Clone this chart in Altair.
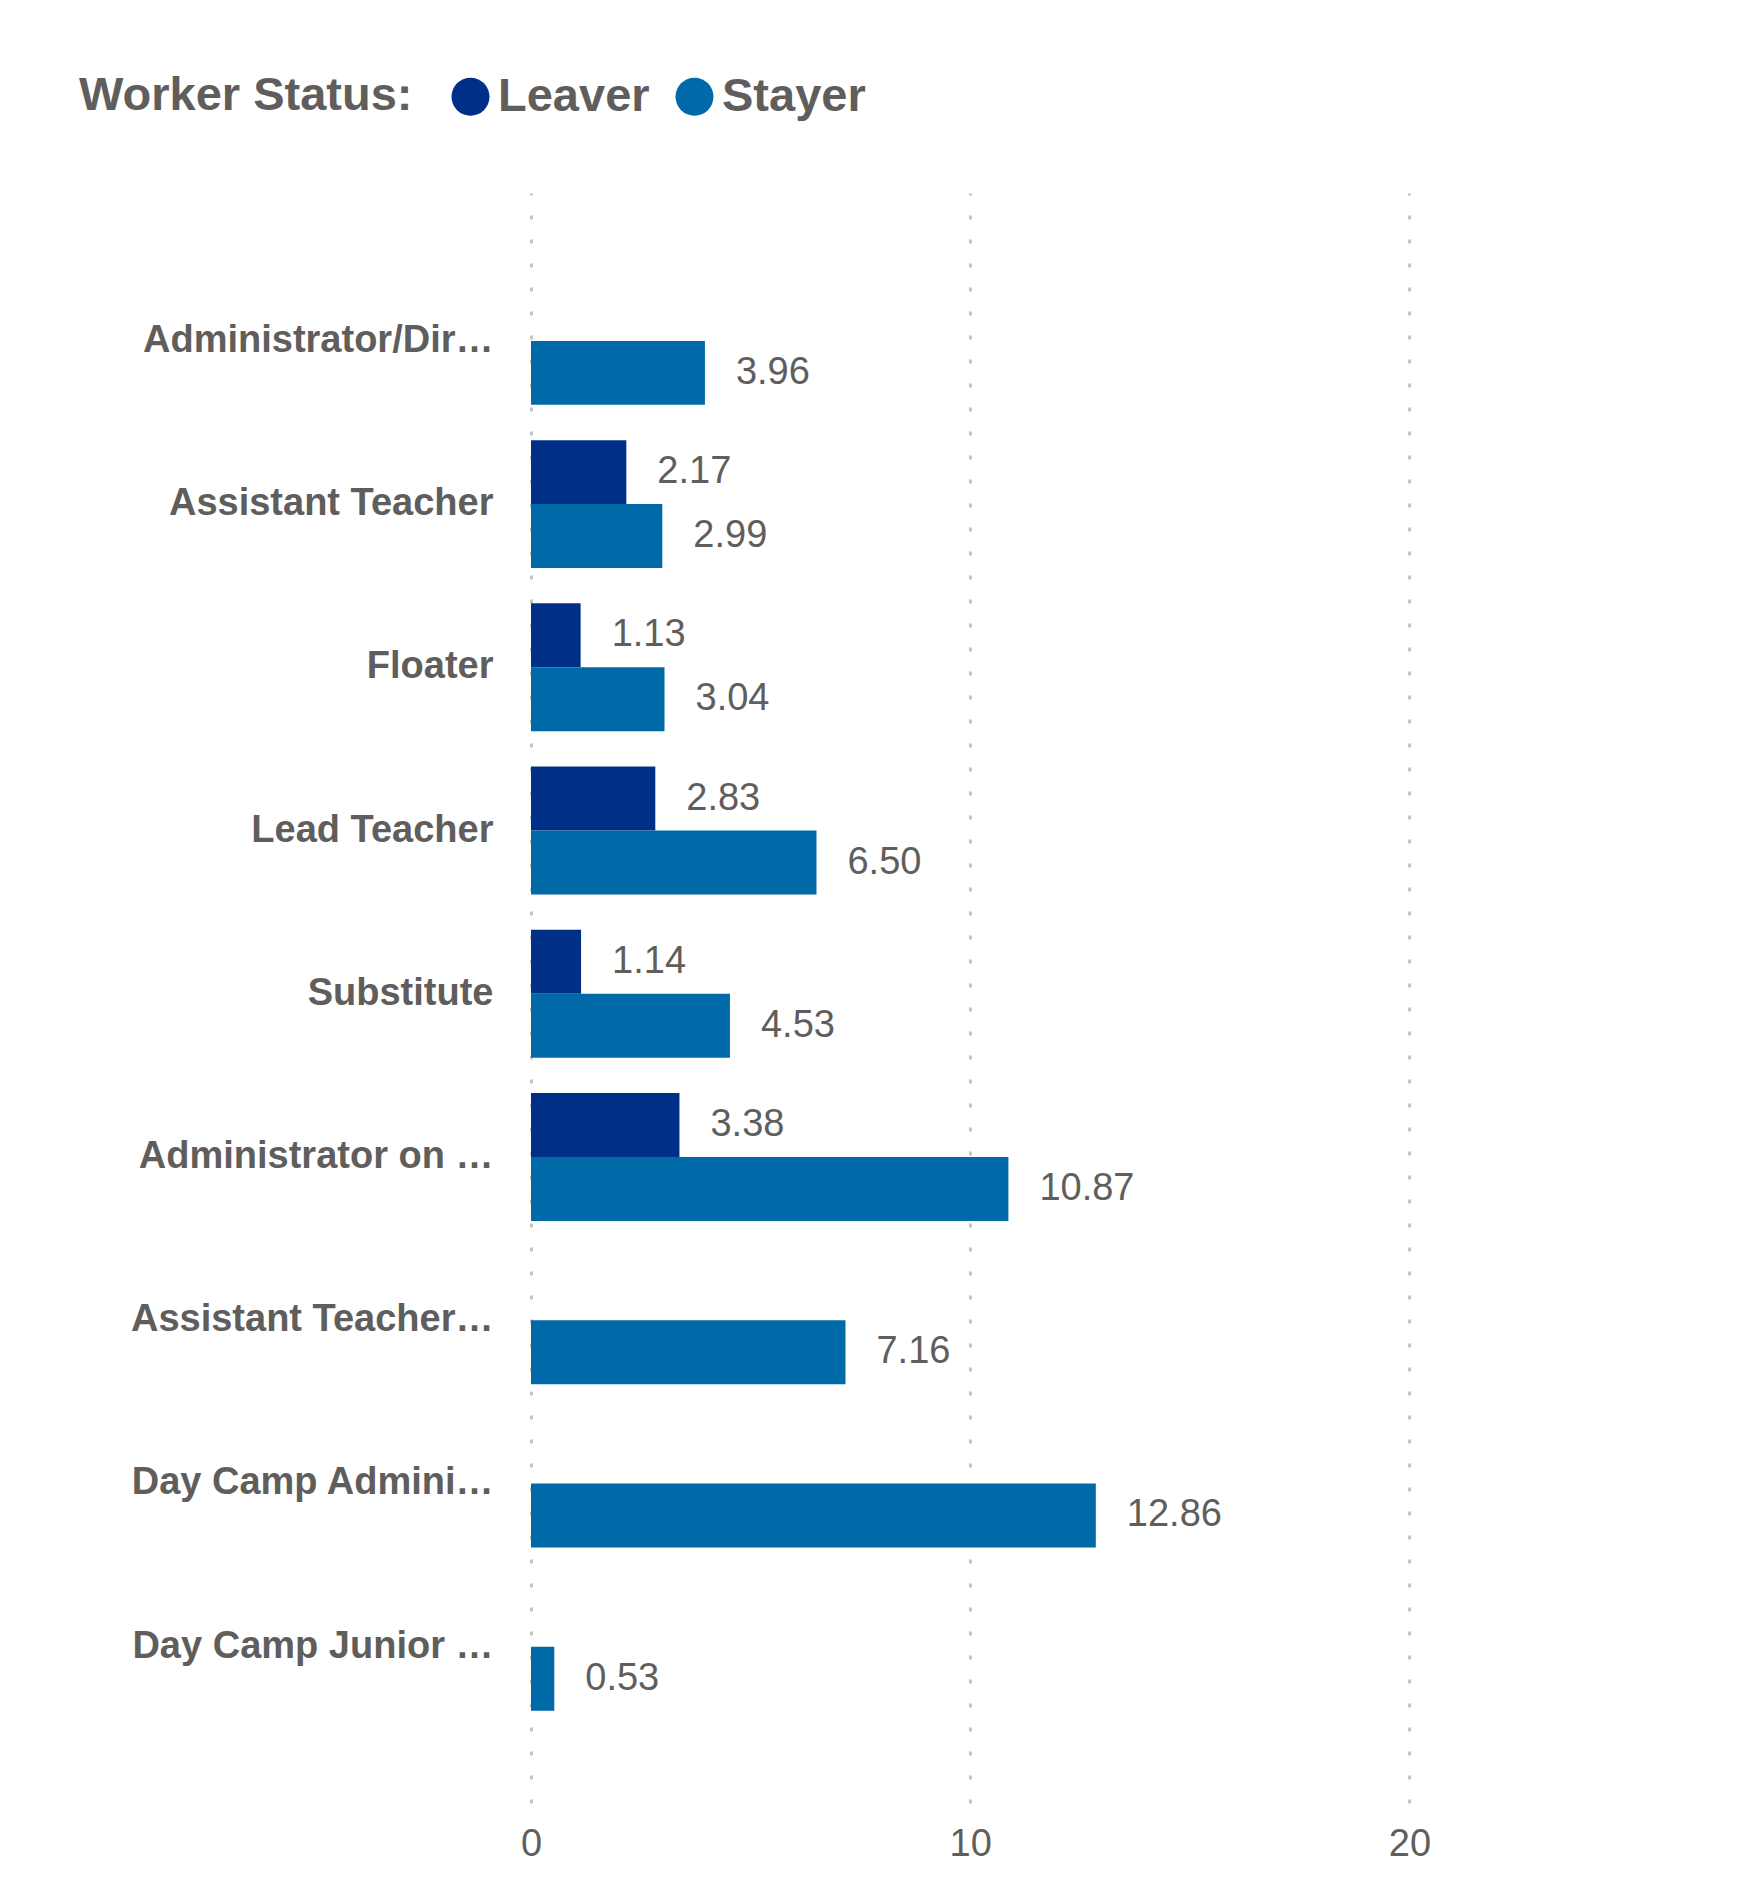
import altair as alt
import pandas as pd

categories = ["Administrator/Dir…", "Assistant Teacher", "Floater", "Lead Teacher",
              "Substitute", "Administrator on …", "Assistant Teacher…",
              "Day Camp Admini…", "Day Camp Junior …"]
leaver = [None, 2.17, 1.13, 2.83, 1.14, 3.38, None, None, None]
stayer = [3.96, 2.99, 3.04, 6.50, 4.53, 10.87, 7.16, 12.86, 0.53]
statuses = ["Leaver", "Stayer"]
colors = ["#002F87", "#0069A8"]
x_ticks = [0, 10, 20]

rows = []
for c, l, s in zip(categories, leaver, stayer):
    if l is not None:
        rows.append({"cat": c, "status": "Leaver", "value": l})
    if s is not None:
        rows.append({"cat": c, "status": "Stayer", "value": s})
df = pd.DataFrame(rows)

FONT = "Liberation Sans"
GRAY = "#605E5C"

y_enc = alt.Y("cat:N", sort=categories,
              scale=alt.Scale(paddingInner=0.216, paddingOuter=0.54, align=0.476),
              axis=alt.Axis(title=None, labelFontSize=38, labelFontWeight="bold",
                            labelColor=GRAY, labelFont=FONT, labelPadding=38,
                            ticks=False, domain=False, labelLimit=1000, grid=False))
yoff = alt.YOffset("status:N", scale=alt.Scale(domain=statuses))
x_enc = alt.X("value:Q", scale=alt.Scale(domain=[0, 25], nice=False),
              axis=alt.Axis(title=None, values=x_ticks, labelFontSize=38,
                            labelColor=GRAY, labelFont=FONT, grid=True,
                            gridDash=[4, 20], gridColor="#C8C6C4", gridWidth=3,
                            domain=False, ticks=False, labelPadding=22,
                            labelFlush=False))

bars = alt.Chart(df).mark_bar().encode(
    y=y_enc, yOffset=yoff, x=x_enc,
    color=alt.Color("status:N", scale=alt.Scale(domain=statuses, range=colors),
                    legend=alt.Legend(orient="none", legendX=-452, legendY=-120,
                                      direction="horizontal", titleOrient="left",
                                      title="Worker Status:", symbolType="circle",
                                      symbolSize=1444, symbolStrokeWidth=0,
                                      symbolOpacity=1,
                                      labelFont=FONT, labelFontSize=47,
                                      labelFontWeight="bold", labelColor=GRAY,
                                      titleFont=FONT, titleFontSize=47,
                                      titleFontWeight="bold", titleColor=GRAY,
                                      titlePadding=34, labelOffset=4,
                                      columnPadding=21, padding=0,
                                      titleBaseline="middle", labelLimit=1000,
                                      titleLimit=1000))
)

labels = alt.Chart(df).mark_text(align="left", baseline="middle", dx=31,
                                 fontSize=38, font=FONT, color=GRAY).encode(
    y=alt.Y("cat:N", sort=categories), yOffset=yoff, x="value:Q",
    text=alt.Text("value:Q", format=".2f")
)

chart = (bars + labels).properties(
    width=1098, height=1610,
    autosize=alt.AutoSizeParams(type="none"),
    padding={"left": 523, "top": 185, "right": 100, "bottom": 70},
).configure(background="white").configure_view(stroke="transparent", strokeWidth=0)

chart.save("out.html", embed_options={"renderer": "svg", "actions": False})
